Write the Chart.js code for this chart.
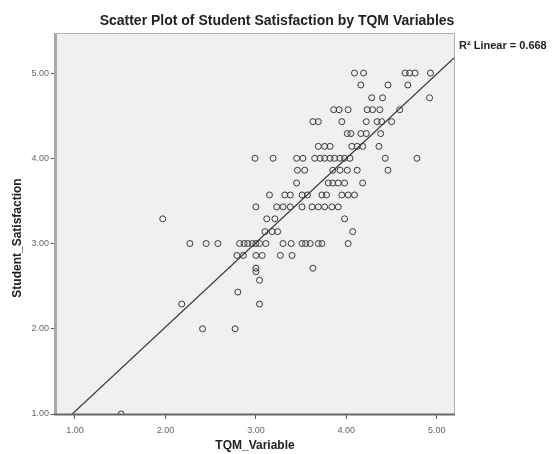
<!DOCTYPE html>
<html>
<head>
<meta charset="utf-8">
<script src="https://cdn.jsdelivr.net/npm/chart.js@4.4.1/dist/chart.umd.min.js"></script>
<style>
  body { margin: 0; background: #fff; }
  canvas { display: block; }
</style>
</head>
<body>
<canvas id="chart" width="552" height="454"></canvas>
<script>
// values, one line per satisfaction level
const tqmVariable = [
  4.09, 4.19, 4.65, 4.70, 4.76, 4.93,
  4.16, 4.46, 4.68,
  4.28, 4.40, 4.92,
  3.86, 3.92, 4.02, 4.23, 4.29, 4.37, 4.59,
  3.63, 3.69, 3.95, 4.22, 4.34, 4.39, 4.50,
  4.01, 4.05, 4.16, 4.22, 4.38,
  3.69, 3.76, 3.82, 4.06, 4.12, 4.18, 4.36,
  2.99, 3.19, 3.45, 3.52, 3.65, 3.71, 3.76, 3.82, 3.87, 3.93, 3.98, 4.04, 4.43, 4.78,
  3.46, 3.54, 3.85, 3.93, 4.01, 4.12, 4.46,
  3.45, 3.80, 3.85, 3.91, 3.98, 4.18,
  3.15, 3.32, 3.38, 3.51, 3.57, 3.73, 3.78, 3.95, 4.02, 4.09,
  3.00, 3.23, 3.30, 3.38, 3.51, 3.62, 3.69, 3.76, 3.84, 3.91,
  1.97, 3.12, 3.21, 3.98,
  3.10, 3.18, 3.24, 4.07,
  2.27, 2.45, 2.58, 2.82, 2.87, 2.91, 2.96, 3.00, 3.04, 3.11, 3.30, 3.39, 3.51, 3.55, 3.60, 3.69, 3.73, 4.02,
  2.79, 2.86, 3.00, 3.07, 3.27, 3.40,
  3.00, 3.00, 3.63,
  3.04,
  2.80,
  2.18, 3.04,
  2.41, 2.77,
  1.51
];
const studentSatisfaction = [
  5.00, 5.00, 5.00, 5.00, 5.00, 5.00,
  4.86, 4.86, 4.86,
  4.71, 4.71, 4.71,
  4.57, 4.57, 4.57, 4.57, 4.57, 4.57, 4.57,
  4.43, 4.43, 4.43, 4.43, 4.43, 4.43, 4.43,
  4.29, 4.29, 4.29, 4.29, 4.29,
  4.14, 4.14, 4.14, 4.14, 4.14, 4.14, 4.14,
  4.00, 4.00, 4.00, 4.00, 4.00, 4.00, 4.00, 4.00, 4.00, 4.00, 4.00, 4.00, 4.00, 4.00,
  3.86, 3.86, 3.86, 3.86, 3.86, 3.86, 3.86,
  3.71, 3.71, 3.71, 3.71, 3.71, 3.71,
  3.57, 3.57, 3.57, 3.57, 3.57, 3.57, 3.57, 3.57, 3.57, 3.57,
  3.43, 3.43, 3.43, 3.43, 3.43, 3.43, 3.43, 3.43, 3.43, 3.43,
  3.29, 3.29, 3.29, 3.29,
  3.14, 3.14, 3.14, 3.14,
  3.00, 3.00, 3.00, 3.00, 3.00, 3.00, 3.00, 3.00, 3.00, 3.00, 3.00, 3.00, 3.00, 3.00, 3.00, 3.00, 3.00, 3.00,
  2.86, 2.86, 2.86, 2.86, 2.86, 2.86,
  2.71, 2.67, 2.71,
  2.57,
  2.43,
  2.29, 2.29,
  2.00, 2.00,
  1.00
];
const tickValues = [1, 2, 3, 4, 5];

// fit line as drawn in the picture
const fitIntercept = 0.04;
const fitSlope = 0.99;
const rSquared = 0.668;

const xMin = 0.79, xMax = 5.19;
const yMin = 1.0, yMax = 5.47;

const FONT = "'Liberation Sans', Arial, sans-serif";

const points = tqmVariable.map((x, i) => ({ x: x, y: studentSatisfaction[i] }));
const fitLine = [xMin, xMax].map(x => ({ x: x, y: fitIntercept + fitSlope * x }));

// grey plot panel, frame and the text SPSS puts around it
const spssFrame = {
  id: "spssFrame",
  beforeDatasetsDraw(chart) {
    const { ctx, chartArea: a } = chart;
    ctx.save();
    ctx.fillStyle = "#f0f0f0";
    ctx.fillRect(a.left, a.top, a.right - a.left, a.bottom - a.top);
    ctx.restore();
  },
  afterDatasetsDraw(chart) {
    const { ctx, chartArea: a } = chart;
    ctx.save();
    ctx.strokeStyle = "#b0b0b0";
    ctx.lineWidth = 1;
    ctx.beginPath();
    ctx.moveTo(a.left, a.top + 0.5);
    ctx.lineTo(a.right + 0.5, a.top + 0.5);
    ctx.lineTo(a.right + 0.5, a.bottom);
    ctx.stroke();
    ctx.strokeStyle = "#a8a8a8";
    ctx.lineWidth = 3;
    ctx.beginPath();
    ctx.moveTo(a.left - 0.5, a.top);
    ctx.lineTo(a.left - 0.5, a.bottom + 1);
    ctx.stroke();
    ctx.strokeStyle = "#666";
    ctx.lineWidth = 2;
    ctx.beginPath();
    ctx.moveTo(a.left - 2, a.bottom + 0.5);
    ctx.lineTo(a.right + 1, a.bottom + 0.5);
    ctx.stroke();

    ctx.fillStyle = "#222";
    ctx.textBaseline = "middle";
    ctx.textAlign = "center";
    ctx.font = "bold 14px " + FONT;
    ctx.fillText("Scatter Plot of Student Satisfaction by TQM Variables", 277, 21);
    ctx.font = "bold 12px " + FONT;
    ctx.fillText("TQM_Variable", (a.left + a.right) / 2, 446);
    ctx.save();
    ctx.translate(18, 238);
    ctx.rotate(-Math.PI / 2);
    ctx.fillText("Student_Satisfaction", 0, 0);
    ctx.restore();
    ctx.textAlign = "left";
    ctx.font = "bold 11px " + FONT;
    ctx.fillText("R\u00B2 Linear = " + rSquared.toFixed(3), a.right + 5, 46);
    ctx.restore();
  }
};

const tickStyle = {
  font: { family: FONT, size: 9 },
  color: "#666",
  callback: v => Number(v).toFixed(2)
};

new Chart(document.getElementById("chart"), {
  type: "scatter",
  data: {
    datasets: [
      {
        data: points,
        pointStyle: "circle",
        pointRadius: 3,
        pointHoverRadius: 3,
        borderColor: "#3a3a3a",
        borderWidth: 1,
        backgroundColor: "rgba(0,0,0,0)"
      },
      {
        type: "line",
        data: fitLine,
        borderColor: "#333",
        borderWidth: 1.2,
        pointRadius: 0,
        fill: false
      }
    ]
  },
  options: {
    responsive: false,
    animation: false,
    layout: { padding: { top: 33, right: 98, left: 0, bottom: 0 } },
    plugins: { legend: { display: false }, tooltip: { enabled: false }, title: { display: false } },
    scales: {
      x: {
        type: "linear",
        min: xMin,
        max: xMax,
        afterBuildTicks: s => { s.ticks = tickValues.map(v => ({ value: v })); },
        afterFit: s => { s.height = 40; },
        ticks: Object.assign({ padding: 6, maxRotation: 0 }, tickStyle),
        grid: { drawOnChartArea: false, tickLength: 5, color: "#555" },
        border: { display: false }
      },
      y: {
        type: "linear",
        min: yMin,
        max: yMax,
        afterBuildTicks: s => { s.ticks = tickValues.map(v => ({ value: v })); },
        afterFit: s => { s.width = 56; },
        ticks: Object.assign({ padding: 2 }, tickStyle),
        grid: { drawOnChartArea: false, tickLength: 5, color: "#555" },
        border: { display: false }
      }
    }
  },
  plugins: [spssFrame]
});
</script>
</body>
</html>
